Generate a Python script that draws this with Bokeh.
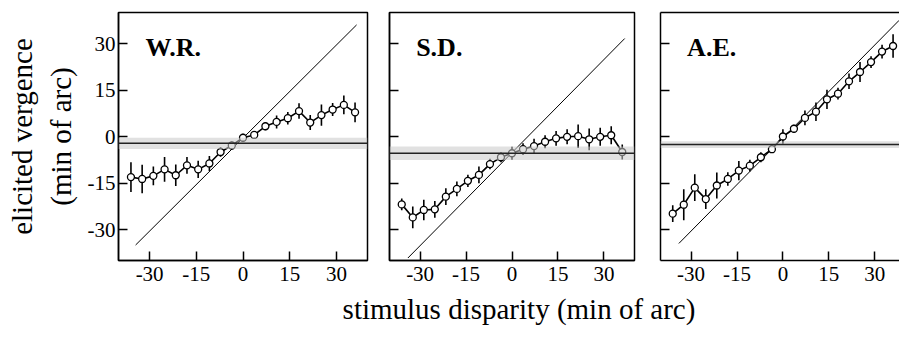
from bokeh.plotting import figure
from bokeh.layouts import row, column
from bokeh.models import Range1d, FixedTicker, BoxAnnotation, Span, Label, LinearAxis
from bokeh.embed import file_html
from bokeh.resources import INLINE

# ---------------- data ----------------
disparity = [-36.0, -32.4, -28.8, -25.2, -21.6, -18.0, -14.4, -10.8, -7.2, -3.6, 0.0,
             3.6, 7.2, 10.8, 14.4, 18.0, 21.6, 25.2, 28.8, 32.4, 36.0]

wr_vergence = [-13.1, -13.7, -12.7, -10.6, -12.5, -9.3, -10.6, -8.7, -5.0, -2.9, -0.4,
               0.5, 3.3, 4.7, 5.9, 8.2, 4.5, 6.9, 8.7, 10.2, 7.8]
wr_err = [4.8, 4.6, 3.0, 4.0, 3.5, 2.7, 2.8, 2.4, 1.5, 1.3, 1.3,
          1.2, 1.3, 2.1, 2.0, 2.5, 2.4, 3.4, 2.1, 3.0, 3.2]

sd_vergence = [-21.9, -26.1, -23.7, -23.5, -19.4, -16.9, -14.3, -12.4, -8.9, -6.7, -5.4,
               -4.1, -3.1, -1.7, -0.6, -0.1, 0.1, -0.9, -0.1, 0.4, -5.0]
sd_err = [1.9, 3.5, 3.3, 2.7, 2.7, 2.4, 2.0, 2.7, 1.7, 1.6, 2.1,
          1.9, 2.4, 2.1, 2.4, 2.4, 3.8, 3.5, 2.9, 2.9, 2.4]

ae_vergence = [-24.9, -22.0, -16.5, -20.2, -15.8, -13.7, -11.0, -9.4, -6.7, -4.1, 0.0,
               2.5, 6.0, 8.0, 12.0, 13.8, 17.8, 20.8, 24.0, 27.4, 29.2]
ae_err = [2.7, 5.0, 4.3, 3.2, 4.2, 2.2, 3.1, 1.9, 1.6, 1.0, 2.3,
          1.3, 2.4, 3.0, 3.1, 1.9, 2.5, 3.2, 1.9, 2.2, 3.8]

subjects = ["W.R.", "S.D.", "A.E."]
baseline_mean = [-2.2, -5.4, -2.6]
baseline_sd = [1.8, 2.2, 1.1]
identity_x = [[-34.5, 36.5], [-34.0, 36.8], [-34.0, 38.0]]
identity_offset = [-0.5, -5.2, -0.5]

tick_values = [-30, -15, 0, 15, 30]
tick_labels = ["-30", "-15", "0", "15", "30"]

x_label = "stimulus disparity (min of arc)"
y_label = "elicited vergence\n(min of arc)"

FONT = "Liberation Serif"

series = [(wr_vergence, wr_err), (sd_vergence, sd_err), (ae_vergence, ae_err)]
widths = [378, 269, 252]
border_left = [118, 11, 13]
border_right = [11, 13, 0]
x_max = [40, 40, 38.1]

panels = []
for i in range(3):
    vals, errs = series[i]
    p = figure(width=widths[i], height=290,
               x_range=Range1d(-40, x_max[i]), y_range=Range1d(-40, 40),
               output_backend="svg", toolbar_location=None,
               min_border_left=border_left[i], min_border_right=border_right[i],
               min_border_top=12, min_border_bottom=30)
    p.xgrid.visible = False
    p.ygrid.visible = False
    p.background_fill_color = "white"
    p.border_fill_color = "white"

    for ax in (p.below[0], p.left[0]):
        ax.ticker = FixedTicker(ticks=tick_values)
        ax.major_tick_in = 9
        ax.major_tick_out = 0
        ax.major_tick_line_width = 1.5
        ax.major_tick_line_color = "black"
        ax.minor_tick_line_color = None
        ax.axis_line_width = 1.5
        ax.axis_line_color = "black"
        ax.major_label_text_font = FONT
        ax.major_label_text_font_size = "21px"
        ax.major_label_text_color = "black"

    xa = p.below[0]
    ya = p.left[0]
    xa.major_label_overrides = dict(zip(tick_values, tick_labels))
    xa.major_label_standoff = 6
    if i == 0:
        ya.major_label_overrides = dict(zip(tick_values, tick_labels))
        ya.major_label_standoff = 3
        ya.axis_label = y_label
        ya.axis_label_text_font = FONT
        ya.axis_label_text_font_size = "29px"
        ya.axis_label_text_font_style = "normal"
        ya.axis_label_text_color = "black"
        ya.axis_label_standoff = 8
    else:
        ya.major_label_overrides = {v: "" for v in tick_values}

    if i < 2:
        p.outline_line_color = "black"
        p.outline_line_width = 1.5
        p.outline_line_alpha = 1.0
    else:
        p.outline_line_color = None
        top_axis = LinearAxis(ticker=FixedTicker(ticks=[]), axis_line_width=1.5,
                              axis_line_color="black",
                              major_tick_line_color=None, minor_tick_line_color=None,
                              major_label_text_font_size="1px")
        p.add_layout(top_axis, "above")

    # baseline band and mean line
    p.add_layout(BoxAnnotation(bottom=baseline_mean[i] - baseline_sd[i],
                               top=baseline_mean[i] + baseline_sd[i],
                               fill_color="#c8c8c8", fill_alpha=0.55, line_color=None))
    p.add_layout(Span(location=baseline_mean[i], dimension="width",
                      line_color="#222222", line_width=1.6))

    # identity (perfect tracking) line
    ix = identity_x[i]
    p.line(ix, [v + identity_offset[i] for v in ix], line_color="black", line_width=1)

    # data
    lower = [v - e for v, e in zip(vals, errs)]
    upper = [v + e for v, e in zip(vals, errs)]
    p.segment(x0=disparity, y0=lower, x1=disparity, y1=upper,
              line_color="black", line_width=1.6)
    p.line(disparity, vals, line_color="black", line_width=1.6)
    p.scatter(disparity, vals, marker="circle", size=7, fill_color="white",
              line_color="black", line_width=1.3)

    p.add_layout(Label(x=-31.3, y=28.7, text=subjects[i], text_font=FONT,
                       text_font_style="bold", text_font_size="26px",
                       text_color="black", text_baseline="alphabetic"))
    panels.append(p)

# shared x-axis label strip under the three panels
lab = figure(width=899, height=51, x_range=Range1d(-40, 40), y_range=Range1d(0, 1),
             output_backend="svg", toolbar_location=None,
             min_border_left=138, min_border_right=0, min_border_top=0, min_border_bottom=49)
lab.xgrid.visible = False
lab.ygrid.visible = False
lab.yaxis.visible = False
lab.outline_line_color = None
lab.xaxis.ticker = FixedTicker(ticks=[])
lab.xaxis.axis_line_color = None
lab.xaxis.major_tick_line_color = None
lab.xaxis.minor_tick_line_color = None
lab.xaxis.major_label_text_font_size = "1px"
lab.xaxis.axis_label = x_label
lab.xaxis.axis_label_text_font = FONT
lab.xaxis.axis_label_text_font_size = "29px"
lab.xaxis.axis_label_text_font_style = "normal"
lab.xaxis.axis_label_text_color = "black"
lab.xaxis.axis_label_standoff = 0

layout = column(row(*panels), lab)
open("out.html", "w").write(file_html(layout, INLINE))
